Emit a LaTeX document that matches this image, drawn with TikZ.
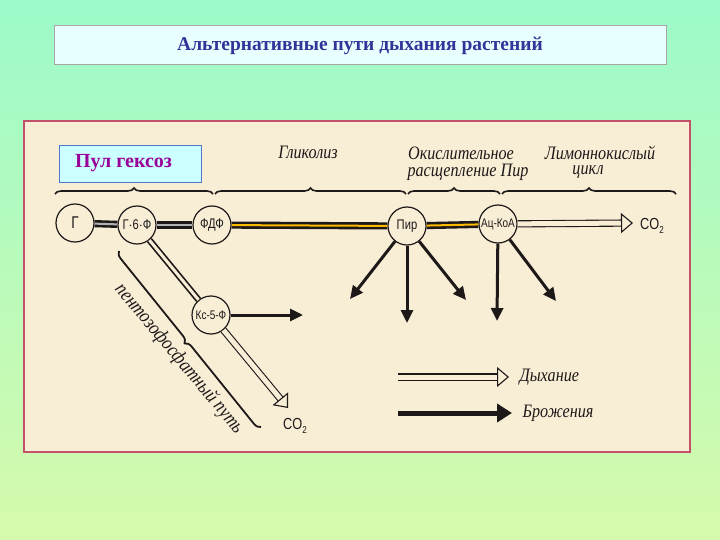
\documentclass[tikz,border=0pt]{standalone}
\usepackage{fontspec}
\setmainfont{Liberation Serif}
\newfontfamily\hand[FakeStretch=0.85]{Liberation Serif}
\newfontfamily\nodefont[FakeStretch=0.8]{Liberation Sans}
\usetikzlibrary{arrows.meta,decorations.pathreplacing,calc}
\definecolor{bgtop}{RGB}{156,250,202}
\definecolor{bgbot}{RGB}{214,250,172}
\definecolor{paper}{RGB}{248,238,214}
\definecolor{framec}{RGB}{196,80,106}
\definecolor{titlefill}{RGB}{232,255,255}
\definecolor{titletext}{RGB}{51,51,153}
\definecolor{pulfill}{RGB}{204,255,255}
\definecolor{pulborder}{RGB}{80,120,200}
\definecolor{pultext}{RGB}{153,0,153}
\definecolor{ink}{RGB}{30,25,25}
\tikzset{
  metab/.style={circle,draw=ink,line width=1.2pt,fill=paper,minimum size=38pt,inner sep=0pt,font=\nodefont\fontsize{14}{16}\selectfont,text=ink},
  mainline/.style={draw=ink,line width=2.6pt,double=#1,double distance=2pt},
  mainline/.default={orange!55!yellow},
  hollow/.style={draw=ink,line width=1.1pt,double=paper,double distance=5pt,-{Triangle[open,length=12pt,width=20pt,line width=1.1pt]}},
  solidarr/.style={draw=ink,line width=3pt,-{Triangle[length=13pt,width=12pt]}},
  bracec/.style={draw=ink,line width=1.6pt,decorate,decoration={brace,amplitude=6pt}},
  lab/.style={font=\hand\itshape\fontsize{19}{21}\selectfont,text=ink},
  co2/.style={font=\nodefont\fontsize{16}{18}\selectfont,text=ink,inner sep=0pt},
}
\begin{document}
\begin{tikzpicture}[x=1pt,y=-1pt]
\useasboundingbox (0,0) rectangle (720,540);
\shade[top color=bgtop,bottom color=bgbot] (0,0) rectangle (720,540);
% title
\node[draw=gray!70,line width=1pt,fill=titlefill,minimum width=612pt,minimum height=39pt,font=\bfseries\fontsize{19.5}{22}\selectfont,text=titletext] (title) at (360,45.5) {Альтернативные пути дыхания растений};
% frame
\node[draw=framec,line width=1.6pt,fill=paper,minimum width=666pt,minimum height=331pt,inner sep=0pt] (frame) at (357,286.5) {};
% pool box
\node[draw=pulborder,line width=0.8pt,fill=pulfill,minimum width=142pt,minimum height=37pt,font=\bfseries\fontsize{20}{22}\selectfont,text=pultext] (pul) at (130,163.5) {\hspace*{-13pt}Пул гексоз};
% labels
\node[lab] (glyc) at (308,152) {Гликолиз};
\node[lab] (ox1) at (461,153) {Окислительное};
\node[lab] (ox2) at (468,172) {расщепление Пир};
\node[lab] (lim1) at (600,153) {Лимоннокислый};
\node[lab] (lim2) at (588,172) {цикл};
% braces
\draw[bracec] (55,194) -- (213,194);
\draw[bracec] (215,194) -- (406,194);
\draw[bracec] (408,194) -- (500,194);
\draw[bracec] (502,194) -- (676,194);
% metabolites
\node[metab,font=\nodefont\fontsize{17}{18}\selectfont] (g) at (75,223) {Г};
\node[metab] (g6f) at (137,225) {Г$\cdot$6$\cdot$Ф};
\node[metab] (fdf) at (212,225) {ФДФ};
\node[metab] (pir) at (407,226) {Пир};
\node[metab,font=\nodefont\fontsize{12.5}{14}\selectfont] (acoa) at (498,224) {Ац-КоА};
\node[metab,font=\nodefont\fontsize{12.5}{14}\selectfont] (ks) at (211,315) {Кс-5-Ф};
% main line
\draw[mainline=gray!60] (g) -- (g6f);
\draw[mainline=gray!60] (g6f) -- (fdf);
\draw[mainline] (fdf) -- (pir);
\draw[mainline] (pir) -- (acoa);
\draw[draw=ink,line width=1.7pt,double=paper,double distance=3pt] (g6f) -- (ks);
% CO2 ends
\coordinate (co2a) at (633,223);
\coordinate (co2b) at (288,408);
\draw[hollow] (acoa) -- (co2a);
\draw[hollow] (ks) -- (co2b);
\node[co2,anchor=west] (co2at) at (640,226) {CO\raisebox{-0.4ex}{\fontsize{10}{11}\selectfont 2}};
\node[co2,anchor=west] (co2bt) at (283,426) {CO\raisebox{-0.4ex}{\fontsize{10}{11}\selectfont 2}};
% fermentation arrows
\coordinate (p1) at (350,299);
\coordinate (p2) at (407,323);
\coordinate (p3) at (466,300);
\coordinate (a1) at (497,321);
\coordinate (a2) at (556,301);
\coordinate (k1) at (303,315);
\draw[solidarr] (pir) -- (p1);
\draw[solidarr] (pir) -- (p2);
\draw[solidarr] (pir) -- (p3);
\draw[solidarr] (acoa) -- (a1);
\draw[solidarr] (acoa) -- (a2);
\draw[solidarr] (ks) -- (k1);
% pentose brace and text
\draw[bracec,line width=1.8pt,decoration={brace,amplitude=7pt}] (261,427) -- (119,251);
\node[lab,rotate=-50,font=\hand\itshape\fontsize{20}{22}\selectfont] (pent) at (179,359) {пентозофосфатный путь};
% legend
\coordinate (l1s) at (398,377);
\coordinate (l1e) at (509,377);
\coordinate (l2s) at (398,413);
\coordinate (l2e) at (512,413);
\draw[hollow] (l1s) -- (l1e);
\draw[draw=ink,line width=5pt,-{Triangle[length=15pt,width=18pt]}] (l2s) -- (l2e);
\node[lab,anchor=west] (resp) at (516,377) {Дыхание};
\node[lab,anchor=west] (ferm) at (519,413) {Брожения};
\end{tikzpicture}
\end{document}
